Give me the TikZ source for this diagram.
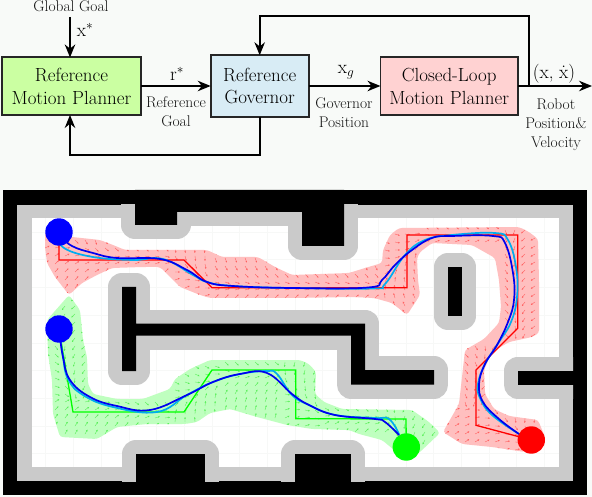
\RequirePackage{fix-cm}
\documentclass[tikz,border=0pt]{standalone}
\usepackage{fontspec}
\usetikzlibrary{arrows.meta}
\definecolor{bgc}{HTML}{F8FAF8}
\definecolor{gridc}{HTML}{F7F8F7}
\definecolor{wallg}{HTML}{CACACA}
\definecolor{boxg}{HTML}{CBFFA2}
\definecolor{boxb}{HTML}{D8ECF5}
\definecolor{boxr}{HTML}{FFD2D2}
\definecolor{corrr}{HTML}{FFBFBF}
\definecolor{corrg}{HTML}{BFFFBF}
\definecolor{trajb}{HTML}{0000F0}
\definecolor{arrr}{HTML}{FF5A5A}
\definecolor{arrg}{HTML}{50EE50}
\tikzset{
  blockbox/.style={draw=black!85,line width=1.9pt,inner sep=0pt,outer sep=0pt,align=center,font=\fontsize{19}{22.5}\selectfont},
  flow/.style={draw=black,line width=1.7pt,-{Stealth[length=13pt,width=10.5pt]}},
  biglabel/.style={inner sep=0pt,font=\fontsize{19}{22}\selectfont},
  smalllabel/.style={inner sep=0pt,align=center,text=black!92,font=\fontsize{15.5}{18.7}\selectfont},
  obstacle/.style={fill=black,draw=wallg,line width=28pt,line join=round},
  solidobs/.style={fill=black},
  corridor/.style={rounded corners=3pt},
  planline/.style={line width=1.3pt,line join=miter},
  trajline/.style={line width=1.7pt,draw=trajb,line cap=round},
  refline/.style={line width=1.7pt,draw=cyan,line cap=round},
  fieldarrow/.style={line width=.35pt,-{Stealth[length=1.8pt,width=1.6pt]}},
}
% field of small arrows that converge on a line A-B:
% x-first, x-last, y-first, y-last, Ax, Ay, Bx, By
\newcommand\fieldzone[8]{%
  \pgfmathsetmacro\fzL{veclen(#7-#5,#8-#6)}%
  \pgfmathsetmacro\fzTx{(#7-#5)/\fzL}%
  \pgfmathsetmacro\fzTy{(#8-#6)/\fzL}%
  \pgfmathtruncatemacro\fzXn{#1+10}%
  \pgfmathtruncatemacro\fzYn{#3+8}%
  \foreach \px in {#1,\fzXn,...,#2}{%
    \foreach \py in {#3,\fzYn,...,#4}{%
      \pgfmathsetmacro\fzS{(#5-\px)*\fzTx+(#6-\py)*\fzTy}%
      \pgfmathsetmacro\fzVx{12*\fzTx+(#5-\px)-\fzS*\fzTx}%
      \pgfmathsetmacro\fzVy{12*\fzTy+(#6-\py)-\fzS*\fzTy}%
      \pgfmathsetmacro\fzM{veclen(\fzVx,\fzVy)}%
      \draw[fieldarrow] (\px,\py) -- ++({5*\fzVx/\fzM},{5*\fzVy/\fzM});
    }%
  }%
}
\def\redcorr{(72,237) -- (100,240) -- (113,245) -- (125,250) -- (183,250) -- (207,250) -- (222,257) -- (258,257) -- (275,267) -- (292,275) -- (349,273) -- (365,268) -- (382,263) -- (383,250) -- (390,235) -- (399,228) -- (519,227) -- (529,232) -- (538,239) -- (539,280) -- (539,333) -- (532,337) -- (509,342) -- (492,352) -- (484,370) -- (485,394) -- (494,409) -- (509,416) -- (538,420) -- (545,437) -- (525,452) -- (492,447) -- (462,444) -- (443,432) -- (459,404) -- (462,377) -- (465,350) -- (484,339) -- (499,323) -- (501,307) -- (499,280) -- (495,258) -- (472,245) -- (432,243) -- (420,252) -- (417,258) -- (418,280) -- (420,295) -- (407,315) -- (392,303) -- (374,298) -- (352,297) -- (292,298) -- (210,298) -- (200,295) -- (180,287) -- (173,280) -- (160,267) -- (143,267) -- (112,268) -- (97,275) -- (82,283) -- (69,295) -- (55,277) -- (47,263) -- (45,247) -- (45,232)}
\def\greencorr{(69,295) -- (80,310) -- (83,340) -- (87,357) -- (88,384) -- (93,394) -- (117,399) -- (143,399) -- (170,389) -- (175,379) -- (190,369) -- (210,360) -- (300,360) -- (309,364) -- (316,372) -- (315,394) -- (324,402) -- (342,409) -- (412,410) -- (429,422) -- (440,433) -- (420,452) -- (407,460) -- (394,450) -- (382,440) -- (359,434) -- (349,430) -- (312,429) -- (287,425) -- (257,417) -- (230,409) -- (210,413) -- (197,422) -- (185,424) -- (147,424) -- (117,427) -- (97,439) -- (60,437) -- (53,414) -- (52,380) -- (48,354) -- (47,320)}
\def\topobs{(135,190) -- (135,225) -- (177,225) -- (177,212) -- (302,212) -- (302,246) -- (344,246) -- (344,190) -- cycle}
\def\tobs{(122,287) -- (136,287) -- (136,323.5) -- (365,323.5) -- (365,370) -- (434,370) -- (434,384.5) -- (351,384.5) -- (351,335.5) -- (136,335.5) -- (136,371) -- (122,371) -- cycle}
\def\islandobs{(448,267) -- (462,267) -- (462,316) -- (448,316) -- cycle}
\def\rightobs{(518,370.5) -- (587,370.5) -- (587,384.5) -- (518,384.5) -- cycle}
\def\botobsa{(136,454) -- (205,454) -- (205,495) -- (136,495) -- cycle}
\def\botobsb{(295,454) -- (351,454) -- (351,495) -- (295,495) -- cycle}
\begin{document}
\begin{tikzpicture}[x=1pt,y=-1pt]
\useasboundingbox (0,0) rectangle (592,497);
\fill[bgc] (0,0) rectangle (592,497);
% ---------- map ----------
\fill[black] (3,190) rectangle (587,495);
\fill[wallg] (17,205) rectangle (573,481);
\fill[white] (32,218) rectangle (559,467);
\foreach \gx in {45.7,73.4,...,550}{\draw[gridc,line width=.5pt] (\gx,218) -- (\gx,467);}
\foreach \gy in {232,259.7,...,465}{\draw[gridc,line width=.5pt] (32,\gy) -- (559,\gy);}
\begin{scope}
\clip (17,205) rectangle (573,481);
\draw[obstacle] \topobs;
\draw[obstacle] \tobs;
\draw[obstacle] \islandobs;
\draw[obstacle] \rightobs;
\draw[obstacle] \botobsa;
\draw[obstacle] \botobsb;
\end{scope}
\fill[solidobs] \topobs;
\fill[solidobs] \tobs;
\fill[solidobs] \islandobs;
\fill[solidobs] \rightobs;
\fill[solidobs] \botobsa;
\fill[solidobs] \botobsb;
% corridors
\fill[corrr,corridor] \redcorr -- cycle;
\fill[corrg,corridor] \greencorr -- cycle;
% field arrows
\begin{scope}[arrr]
\clip[corridor] \redcorr -- cycle;
\fieldzone{45}{99}{232}{296}{59}{240}{93}{253}
\fieldzone{105}{165}{240}{288}{117}{258}{160}{259}
\fieldzone{175}{205}{240}{304}{170}{262}{207}{282}
\fieldzone{215}{375}{250}{298}{233}{286}{372}{287}
\fieldzone{385}{415}{226}{320}{382}{280}{412}{250}
\fieldzone{425}{495}{226}{244}{432}{238}{495}{236}
\fieldzone{505}{539}{230}{340}{512}{273}{514}{300}
\fieldzone{455}{539}{346}{402}{485}{364}{479}{384}
\fieldzone{445}{535}{410}{450}{490}{410}{519}{434}
\end{scope}
\begin{scope}[arrg]
\clip[corridor] \greencorr -- cycle;
\fieldzone{45}{85}{298}{394}{63}{357}{70}{380}
\fieldzone{55}{165}{402}{440}{90}{397}{150}{410}
\fieldzone{175}{215}{366}{422}{187}{395}{213}{382}
\fieldzone{225}{275}{362}{418}{240}{374}{267}{373}
\fieldzone{285}{315}{362}{426}{283}{384}{309}{405}
\fieldzone{325}{385}{408}{432}{335}{415}{375}{419}
\fieldzone{395}{440}{408}{464}{399}{435}{406}{447}
\end{scope}
% plans
\draw[planline,red] (59,232) -- (59,260) -- (184,260) -- (212,287.7) -- (407,287.7) -- (407,235) -- (517.7,235) -- (517.7,328.3) -- (476,370) -- (476,425.3) -- (531.3,440);
\draw[planline,green] (59,329) -- (73,412) -- (184,412) -- (212,370) -- (295.7,370) -- (295.7,418.7) -- (406,419) -- (406.3,447);
% reference paths
\draw[refline] plot[smooth,tension=.7] coordinates {(58,235) (64,248) (93,257) (133,260) (163,259) (193,275) (207,282) (233,286) (292,288) (372,288.5) (385,284) (405,255) (425,240) (452,235) (495,233) (508,240) (516,267) (517,297) (511,322) (499,342) (485,364) (478,384) (480,398) (492,415) (519,434)};
\draw[refline] plot[smooth,tension=.7] coordinates {(59,329) (63,357) (68,379) (83,395) (113,407) (157,412) (187,395) (213,382) (240,374) (267,371) (277,374) (292,395) (309,405) (335,415) (375,418) (389,419) (399,434)};
% trajectories
\draw[trajline] plot[smooth,tension=.7] coordinates {(59,235) (72,246) (93,253) (117,258) (160,259) (187,270) (207,282) (233,286) (292,288) (368,287.5) (382,280) (395,265) (412,250) (432,238) (452,236) (493,236) (505,243) (513,273) (514,300) (508,322) (497,345) (485,364) (479,384) (483,402) (499,419) (519,434)};
\draw[trajline] plot[smooth,tension=.7] coordinates {(59,329) (63,357) (70,380) (90,397) (117,406) (150,410) (187,395) (213,382) (240,374) (267,373) (292,394) (309,405) (335,415) (375,419) (385,422) (399,435)};
% start and goal discs
\fill[blue] (59,232) circle (13.7);
\fill[blue] (59,329) circle (13.7);
\fill[green] (406.3,447) circle (13.7);
\fill[red] (531.3,440) circle (13.7);
% ---------- block diagram ----------
\node[blockbox,fill=boxg,minimum width=139.5pt,minimum height=57.5pt] (rmp) at (71.5,86.2) {Reference\\Motion Planner};
\node[blockbox,fill=boxb,minimum width=98pt,minimum height=61.5pt] (gov) at (259.7,86) {Reference\\Governor};
\node[blockbox,fill=boxr,minimum width=137.5pt,minimum height=58pt] (clmp) at (449.2,86.2) {Closed-Loop\\Motion Planner};
\coordinate (goalstart) at (70,17);
\coordinate (feedbot) at (70,155);
\coordinate (feedtop) at (259.7,16);
\coordinate (tap) at (528.7,86);
\coordinate (outend) at (592,86);
\draw[flow] (goalstart) -- (goalstart |- rmp.north);
\draw[flow] (rmp.east |- gov.west) -- (gov.west);
\draw[flow] (gov.east) -- (clmp.west |- gov.east);
\draw[flow] (clmp.east |- gov.east) -- (outend);
\draw[flow] (gov.south) |- (feedbot) -- (feedbot |- rmp.south);
\draw[flow] (tap) |- (feedtop) -- (gov.north);
\node[smalllabel] (lglobal) at (71,6) {Global Goal};
\node[biglabel] (lx) at (85,30) {x$^*$};
\node[biglabel] (lr) at (177,74) {r$^*$};
\node[biglabel] (lxg) at (346,72) {x$_g$};
\node[biglabel] (lxd) at (554,73.5) {(x, $\dot{\mbox{x}}$)};
\node[smalllabel] (lrg) at (176,111.5) {Reference\\Goal};
\node[smalllabel] (lgp) at (344,112.5) {Governor\\Position};
\node[smalllabel] (lrv) at (556,124.5) {Robot\\Position\&\\Velocity};
\end{tikzpicture}
\end{document}
